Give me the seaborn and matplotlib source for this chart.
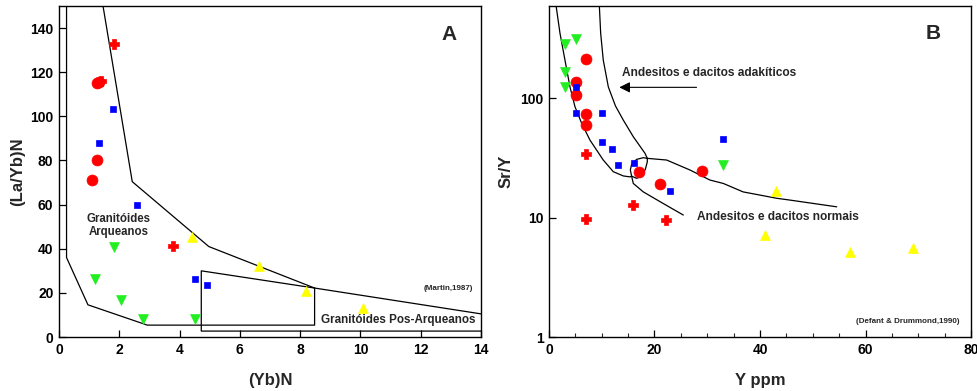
import matplotlib
matplotlib.use("Agg")
import matplotlib.pyplot as plt
import seaborn as sns

sns.set_theme(style="white")
plt.rcParams['font.family'] = ['Liberation Sans', 'DejaVu Sans']
plt.rcParams['font.weight'] = 'bold'

# ---- Panel A: (La/Yb)N vs (Yb)N ----
a_circle_x = [1.09, 1.27, 1.27, 1.33]
a_circle_y = [71.1, 80.0, 115.0, 115.5]
a_cross_x = [1.82, 1.40, 3.77]
a_cross_y = [133.0, 115.8, 41.3]
a_square_x = [1.78, 1.32, 2.59, 4.50, 4.92]
a_square_y = [103.3, 88.0, 59.8, 26.5, 23.6]
a_down_x = [1.83, 1.19, 2.06, 2.79, 4.51]
a_down_y = [41.0, 26.5, 16.9, 8.1, 8.1]
a_up_x = [4.42, 6.63, 8.20, 10.10]
a_up_y = [45.5, 32.2, 21.0, 13.0]

# field boundaries (Martin, 1987)
archean_x = [0.25, 0.25, 0.96, 2.93, 8.48, 8.48, 4.97, 2.43, 1.46, 0.25]
archean_y = [150, 36.0, 14.6, 5.4, 5.4, 22.2, 41.0, 70.4, 150, 150]
upper_x = [8.48, 14.0]
upper_y = [22.2, 10.5]
post_x = [8.48, 4.72, 4.72, 14.0]
post_y = [22.2, 30.0, 2.7, 2.7]

# ---- Panel B: Sr/Y vs Y ----
b_circle_x = [7.07, 5.06, 5.06, 7.07, 7.07, 17.06, 21.04, 29.0]
b_circle_y = [212, 137, 107, 73.5, 59.4, 23.9, 19.2, 24.5]
b_cross_x = [7.07, 7.07, 15.98, 22.1]
b_cross_y = [33.8, 9.7, 12.8, 9.5]
b_square_x = [5.06, 5.06, 10.05, 10.05, 12.0, 13.0, 16.05, 23.0, 33.0]
b_square_y = [123, 74.5, 75.4, 42.6, 37.4, 27.7, 28.4, 16.8, 45.6]
b_down_x = [3.09, 5.06, 3.09, 3.09, 33.0]
b_down_y = [281, 310, 164, 123, 27.5]
b_up_x = [42.97, 40.95, 57.0, 69.0]
b_up_y = [16.8, 7.18, 5.11, 5.59]

# field boundaries (Defant & Drummond, 1990)
adak_left_x = [1.33, 2.09, 3.03, 3.98, 4.93, 6.2, 7.77, 10.29, 12.19, 14.09, 15.36, 15.67]
adak_left_y = [600, 348, 208, 124, 84.6, 61.4, 44.5, 30.3, 24.2, 22.3, 21.9, 22.2]
adak_right_x = [9.54, 9.8, 10.29, 11.25, 12.6, 14.09, 15.98, 18.2, 18.64]
adak_right_y = [600, 348, 208, 124, 86, 65.4, 47.5, 34.5, 31.3]
loop_x = [18.64, 17.88, 16.62, 15.67, 15.42, 15.67, 16.62, 17.57, 18.26, 18.64, 18.64]
loop_y = [31.3, 31.7, 30.7, 28.0, 25.0, 22.2, 21.3, 22.2, 25.3, 29.3, 31.3]
norm_up_x = [18.64, 22.31, 26.73, 30.52, 33.04, 36.8, 43.17, 45.7, 54.54]
norm_up_y = [31.3, 30.3, 25.0, 20.6, 19.3, 16.4, 14.5, 14.0, 12.3]
norm_low_x = [15.67, 15.98, 17.88, 21.67, 25.46]
norm_low_y = [22.2, 19.3, 16.4, 13.1, 10.5]

RED, BLUE, GREEN, YELLOW = "#ff0000", "#0000ff", "#22ee22", "#ffff00"

fig = plt.figure(figsize=(9.77, 3.91), dpi=100)
axA = fig.add_axes([0.0604, 0.138, 0.4319, 0.8467])
axB = fig.add_axes([0.5619, 0.138, 0.432, 0.8467])


def points(ax, groups):
    for xs, ys, marker, color, size in groups:
        sns.scatterplot(x=xs, y=ys, ax=ax, marker=marker, color=color, s=size,
                        edgecolor=color, linewidth=0.5, zorder=3)


points(axA, [
    (a_circle_x, a_circle_y, "o", RED, 62),
    (a_cross_x, a_cross_y, "P", RED, 60),
    (a_square_x, a_square_y, "s", BLUE, 22),
    (a_down_x, a_down_y, "v", GREEN, 50),
    (a_up_x, a_up_y, "^", YELLOW, 50),
])
lk = dict(color="black", lw=0.9, zorder=2)
axA.plot(archean_x, archean_y, **lk)
axA.plot(upper_x, upper_y, **lk)
axA.plot(post_x, post_y, **lk)

axA.set_xlim(0, 14)
axA.set_ylim(0, 150)
axA.set_xticks(range(0, 15, 2))
axA.set_yticks(range(0, 141, 20))
axA.set_xlabel("(Yb)N", fontsize=12, fontweight="bold", labelpad=12)
axA.set_ylabel("(La/Yb)N", fontsize=12, fontweight="bold", labelpad=4)
axA.text(12.95, 137, "A", fontsize=15, fontweight="bold", ha="center", va="center")
axA.text(1.99, 50.5, "Granitóides\nArqueanos", fontsize=8.3, fontweight="bold",
         ha="center", va="center", linespacing=1.1)
axA.text(13.75, 21.8, "(Martin,1987)", fontsize=5.8, fontweight="bold", ha="right", va="center")
axA.text(11.25, 7.5, "Granitóides Pos-Arqueanos", fontsize=8.4, fontweight="bold",
         ha="center", va="center")

points(axB, [
    (b_circle_x, b_circle_y, "o", RED, 62),
    (b_cross_x, b_cross_y, "P", RED, 60),
    (b_square_x, b_square_y, "s", BLUE, 22),
    (b_down_x, b_down_y, "v", GREEN, 50),
    (b_up_x, b_up_y, "^", YELLOW, 50),
])
axB.plot(adak_left_x, adak_left_y, **lk)
axB.plot(adak_right_x, adak_right_y, **lk)
axB.plot(loop_x, loop_y, **lk)
axB.plot(norm_up_x, norm_up_y, **lk)
axB.plot(norm_low_x, norm_low_y, **lk)

axB.set_yscale("log")
axB.set_xlim(0, 80)
axB.set_ylim(1, 590)
axB.set_xticks(range(0, 81, 20))
axB.set_xticks(range(5, 80, 5), minor=True)
axB.set_yticks([1, 10, 100])
axB.set_yticklabels(["1", "10", "100"])
axB.yaxis.set_minor_locator(matplotlib.ticker.NullLocator())
axB.set_xlabel("Y ppm", fontsize=12, fontweight="bold", labelpad=12)
axB.set_ylabel("Sr/Y", fontsize=12, fontweight="bold", labelpad=5)
axB.text(72.8, 348, "B", fontsize=15, fontweight="bold", ha="center", va="center")
axB.annotate("", xy=(12.8, 123), xytext=(28.5, 123),
             arrowprops=dict(arrowstyle="-|>", color="black", lw=0.8, mutation_scale=16))
axB.text(13.8, 163, "Andesitos e dacitos adakíticos", fontsize=8.6, fontweight="bold",
         ha="left", va="center")
axB.text(28.0, 10.2, "Andesitos e dacitos normais", fontsize=8.6, fontweight="bold",
         ha="left", va="center")
axB.text(77.8, 1.34, "(Defant & Drummond,1990)", fontsize=5.8, fontweight="bold",
         ha="right", va="center")

for ax in (axA, axB):
    ax.grid(False)
    for sp in ax.spines.values():
        sp.set_visible(True)
        sp.set_color("black")
        sp.set_linewidth(1.0)
    ax.tick_params(axis="both", which="major", direction="in", length=5, width=0.9,
                   labelsize=10, pad=4, colors="black")
    ax.tick_params(axis="x", which="minor", direction="in", length=3, width=0.8, bottom=True)
    ax.tick_params(left=True, bottom=True)
    for lab in ax.get_xticklabels() + ax.get_yticklabels():
        lab.set_fontweight("bold")

fig.savefig("out.png", dpi=100)
